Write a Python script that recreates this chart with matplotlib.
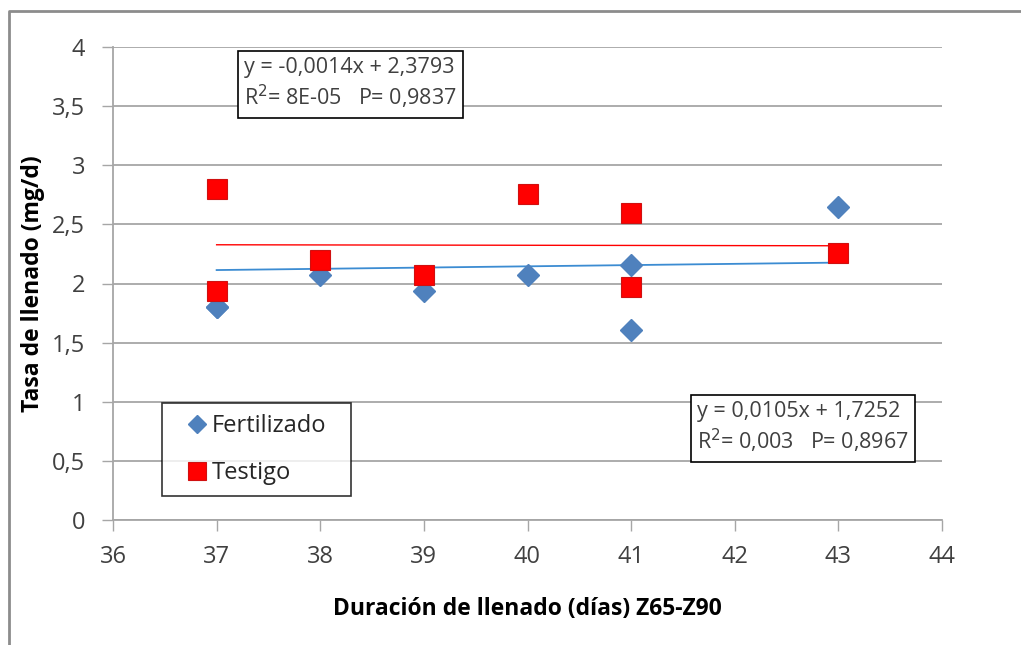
import matplotlib
matplotlib.use("Agg")
import matplotlib.pyplot as plt
from matplotlib.lines import Line2D
import numpy as np

plt.rcParams['font.family'] = ['Open Sans', 'DejaVu Sans']

# data
fert_x = [37, 37, 38, 39, 40, 41, 41, 43]
fert_y = [1.80, 1.80, 2.07, 1.94, 2.07, 2.16, 1.61, 2.65]
test_x = [37, 37, 38, 39, 40, 41, 41, 43]
test_y = [2.80, 1.94, 2.20, 2.07, 2.76, 2.60, 1.97, 2.26]

# trendline coefficients (slope, intercept) as printed on the chart
fert_fit = (0.0105, 1.7252)
test_fit = (-0.0014, 2.3793)
fert_label = "y = 0,0105x + 1,7252\nR$^2$= 0,003   P= 0,8967"
test_label = "y = -0,0014x + 2,3793\nR$^2$= 8E-05   P= 0,9837"

xticks = [36, 37, 38, 39, 40, 41, 42, 43, 44]
yticks = [0, 0.5, 1, 1.5, 2, 2.5, 3, 3.5, 4]
ytick_labels = ["0", "0,5", "1", "1,5", "2", "2,5", "3", "3,5", "4"]

blue = "#4F81BD"
red = "#FF0000"
grid_c = "#A6A6A6"
txt_c = "#404040"

fig = plt.figure(figsize=(10.21, 6.45), dpi=100)
ax = fig.add_axes([113/1021, 1-520/645, (942-113)/1021, (520-47)/645])

# outer chart frame
fig.add_artist(Line2D([9/1021, 9/1021, 1.0], [0.0, 1-11/645, 1-11/645],
                      transform=fig.transFigure, color="#8C8C8C", lw=2))

# trendlines
tx = np.array([37, 43])
ax.plot(tx, test_fit[0]*tx + test_fit[1], color=red, lw=1, zorder=2)
ax.plot(tx, fert_fit[0]*tx + fert_fit[1], color="#3C8CD2", lw=1.3, zorder=2)

ax.plot(fert_x, fert_y, 'D', color=blue, ms=11, mec=blue, ls='none',
        label="Fertilizado", zorder=3)
ax.plot(test_x, test_y, 's', color=red, ms=15, mec="#D01010", mew=0.8,
        ls='none', label="Testigo", zorder=4)

ax.set_xlim(36, 44)
ax.set_ylim(0, 4)
ax.set_xticks(xticks)
ax.set_yticks(yticks)
ax.set_yticklabels(ytick_labels)
ax.tick_params(axis='both', labelsize=17, colors=grid_c, labelcolor=txt_c,
               length=8, width=1, direction='out')
ax.tick_params(axis='x', pad=10)
ax.tick_params(axis='y', pad=12)
ax.yaxis.grid(True, color=grid_c, lw=1.3)
ax.set_axisbelow(True)
for s in ['top', 'right']:
    ax.spines[s].set_visible(False)
for s in ['left', 'bottom']:
    ax.spines[s].set_color(grid_c)
    ax.spines[s].set_linewidth(1.3)

ax.set_xlabel("Duración de llenado (días) Z65-Z90", fontsize=16.5,
              fontweight='bold', color='black', labelpad=20)
ax.set_ylabel("Tasa de llenado (mg/d)", fontsize=16.5, fontweight='bold',
              color='black', labelpad=5)

leg = ax.legend(loc='lower left', bbox_to_anchor=((162-113)/829, (520-496)/473,
                (351-162)/829, (496-393)/473), mode='expand',
                fontsize=17, frameon=True, fancybox=False, handlelength=2.07,
                handletextpad=-0.4, labelspacing=1.0, borderpad=0.45,
                borderaxespad=0)
leg.get_frame().set_edgecolor('black')
leg.get_frame().set_linewidth(1.2)
for t in leg.get_texts():
    t.set_color('#262626')
leg.legend_handles[0].set_markersize(9)
leg.legend_handles[1].set_markersize(13)

box = dict(boxstyle='square,pad=0.3', fc='white', ec='black', lw=1.2)
fig.text(244/1021, 1-84/645, test_label, fontsize=15.5, color=txt_c,
         va='center', ha='left', bbox=box, linespacing=1.25)
fig.text(697/1021, 1-428/645, fert_label, fontsize=15.5, color=txt_c,
         va='center', ha='left', bbox=box, linespacing=1.25)

fig.savefig("out.png", dpi=100)
